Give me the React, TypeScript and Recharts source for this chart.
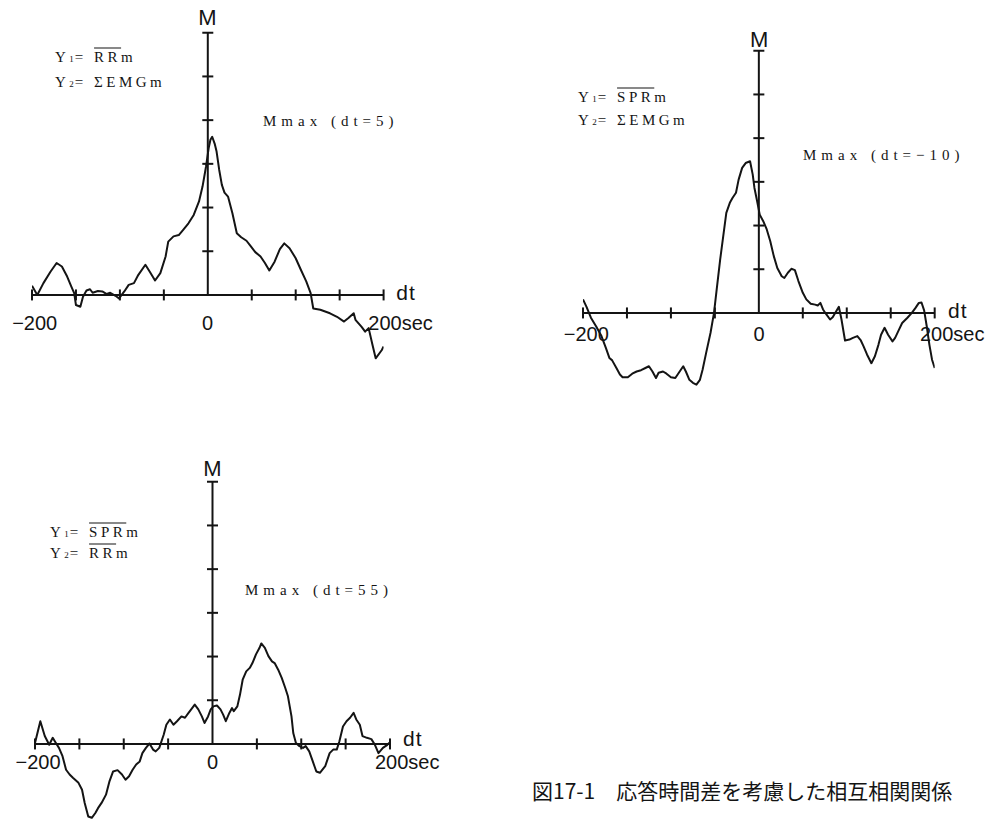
import { LineChart, Line, XAxis, YAxis, ReferenceLine } from 'recharts';
import type { CSSProperties, ReactNode } from 'react';

// lag axis ticks (sec) and correlation ticks (M)
const DT_TICKS = [-200, -150, -100, -50, 0, 50, 100, 150, 200];
const M_TICKS = [0.1, 0.2, 0.3, 0.4, 0.5, 0.6];
const DT_LABELS = ['−200', '0', '200sec'];

// Y1 = RRm, Y2 = ΣEMGm
const rrEmgDt = [
	-200, -194, -187, -179, -172, -166, -160, -155, -152, -150, -145, -142, -138, -134, -131, -125,
	-120, -115, -111, -105, -101, -95, -90, -84, -79, -71, -66, -60, -54, -48, -45, -39, -33, -28,
	-22, -16, -10, -6, -2, 1, 3, 5, 8, 10, 13, 16, 19, 23, 28, 33, 38, 44, 49, 54, 60, 65, 70, 76,
	82, 87, 93, 100, 106, 112, 117, 120, 128, 139, 147, 155, 160, 166, 168, 175, 179, 183, 187,
	191, 198, 200,
];
const rrEmgM = [
	0.021, 0, 0.027, 0.053, 0.073, 0.065, 0.042, 0.018, 0.004, -0.023, -0.027, -0.004, 0.01, 0.013,
	0.005, 0.009, 0.008, 0.002, 0.005, -0.002, -0.008, 0.008, 0.023, 0.027, 0.046, 0.069, 0.053,
	0.033, 0.05, 0.088, 0.122, 0.134, 0.137, 0.149, 0.164, 0.183, 0.214, 0.248, 0.294, 0.336, 0.355,
	0.362, 0.345, 0.328, 0.286, 0.252, 0.234, 0.225, 0.187, 0.141, 0.132, 0.124, 0.111, 0.098,
	0.088, 0.073, 0.056, 0.076, 0.105, 0.118, 0.107, 0.084, 0.057, 0.031, 0.004, -0.031, -0.034,
	-0.042, -0.05, -0.061, -0.053, -0.042, -0.057, -0.073, -0.084, -0.076, -0.111, -0.145, -0.126,
	-0.118,
];

// Y1 = SPRm, Y2 = ΣEMGm
const sprEmgDt = [
	-200, -196, -191, -185, -179, -174, -170, -167, -162, -158, -155, -149, -144, -139, -134, -129,
	-125, -121, -117, -114, -109, -105, -100, -95, -91, -86, -83, -79, -75, -71, -67, -64, -60, -55,
	-51, -48, -44, -40, -37, -33, -30, -26, -23, -19, -15, -10, -7, -5, -2, 1, 5, 9, 13, 17, 21, 26,
	29, 33, 37, 41, 45, 50, 54, 59, 64, 67, 70, 73, 77, 81, 84, 88, 91, 94, 98, 103, 107, 112, 116,
	119, 123, 128, 132, 136, 139, 143, 147, 152, 155, 159, 163, 169, 174, 178, 182, 185, 188, 191,
	194, 197, 200,
];
const sprEmgM = [
	0.031, 0.014, -0.011, -0.031, -0.053, -0.08, -0.103, -0.108, -0.126, -0.141, -0.147, -0.147,
	-0.139, -0.134, -0.131, -0.126, -0.122, -0.134, -0.149, -0.137, -0.134, -0.139, -0.147, -0.149,
	-0.137, -0.122, -0.134, -0.153, -0.16, -0.164, -0.153, -0.13, -0.092, -0.046, 0, 0.053, 0.122,
	0.183, 0.229, 0.252, 0.263, 0.275, 0.305, 0.332, 0.343, 0.347, 0.317, 0.286, 0.256, 0.225, 0.21,
	0.191, 0.164, 0.13, 0.103, 0.084, 0.08, 0.092, 0.101, 0.098, 0.073, 0.046, 0.031, 0.021, 0.019,
	0.017, 0.023, 0.008, -0.004, -0.015, -0.01, 0.004, 0.014, -0.015, -0.063, -0.061, -0.057, -0.053,
	-0.063, -0.076, -0.095, -0.115, -0.099, -0.073, -0.05, -0.034, -0.05, -0.065, -0.057, -0.04,
	-0.023, -0.011, 0, 0.011, 0.023, 0.024, 0.006, -0.031, -0.073, -0.107, -0.126,
];

// Y1 = SPRm, Y2 = RRm
const sprRrDt = [
	-200, -194, -189, -184, -180, -177, -173, -169, -165, -161, -157, -151, -147, -144, -140, -136,
	-132, -129, -125, -120, -116, -112, -107, -102, -98, -94, -90, -86, -82, -79, -75, -71, -67, -64,
	-60, -55, -52, -48, -44, -40, -35, -31, -27, -24, -20, -16, -12, -9, -5, -2, 1, 5, 9, 12, 15, 19,
	22, 24, 28, 31, 34, 38, 42, 45, 49, 53, 55, 59, 63, 67, 70, 74, 78, 82, 85, 89, 91, 94, 98, 102,
	105, 109, 113, 117, 121, 127, 132, 136, 140, 143, 147, 151, 155, 159, 162, 166, 169, 174, 179,
	183, 187, 192, 197, 200,
];
const sprRrM = [
	0.002, 0.052, 0.018, -0.002, 0.014, 0.004, -0.009, -0.028, -0.059, -0.07, -0.078, -0.089, -0.105,
	-0.135, -0.166, -0.169, -0.158, -0.147, -0.135, -0.116, -0.085, -0.063, -0.06, -0.07, -0.082,
	-0.074, -0.059, -0.047, -0.04, -0.021, -0.009, 0.001, -0.013, -0.017, -0.009, 0.021, 0.044,
	0.056, 0.044, 0.052, 0.063, 0.06, 0.071, 0.079, 0.09, 0.079, 0.063, 0.048, 0.063, 0.079, 0.086,
	0.088, 0.079, 0.067, 0.052, 0.071, 0.082, 0.075, 0.086, 0.113, 0.147, 0.166, 0.174, 0.185, 0.205,
	0.22, 0.23, 0.22, 0.201, 0.189, 0.185, 0.17, 0.151, 0.128, 0.109, 0.063, 0.025, 0.002, -0.005,
	-0.009, -0.005, -0.017, -0.04, -0.063, -0.066, -0.051, -0.021, -0.013, -0.013, 0.006, 0.04, 0.052,
	0.06, 0.071, 0.056, 0.044, 0.018, 0.014, 0.011, -0.002, -0.021, -0.009, -0.002, 0.004,
];

const INK = '#141414';
const PX_PER_M = 437; // one M tick (0.1) is 43.7px
const M_TOP = 0.62;
const PAD = 8;

type PlotProps = {
	dt: number[];
	m: number[];
	left: number; // page x of dt = -200
	right: number; // page x of dt = 200
	axisY: number; // page y of M = 0
	mMin: number;
};

const CorrPlot = ({ dt, m, left, right, axisY, mMin }: PlotProps) => {
	const data = dt.map((d, i) => ({ dt: d, m: m[i] }));
	const plotW = right - left;
	const plotH = (M_TOP - mMin) * PX_PER_M;
	const halfTickM = 5.5 / PX_PER_M; // x ticks, in M units
	const halfTickDt = (5.5 * 400) / plotW; // y ticks, in dt units
	const axis = { stroke: INK, strokeWidth: 2 };

	return (
		<div
			style={{
				position: 'absolute',
				left: left - PAD,
				top: axisY - M_TOP * PX_PER_M - PAD,
			}}>
			<LineChart
				width={plotW + 2 * PAD}
				height={plotH + 2 * PAD}
				data={data}
				margin={{ top: PAD, right: PAD, bottom: PAD, left: PAD }}>
				<XAxis dataKey="dt" type="number" domain={[-200, 200]} allowDataOverflow hide />
				<YAxis type="number" domain={[mMin, M_TOP]} allowDataOverflow hide />
				<ReferenceLine segment={[{ x: -200, y: 0 }, { x: 200, y: 0 }]} {...axis} />
				<ReferenceLine segment={[{ x: 0, y: 0 }, { x: 0, y: 0.6 }]} {...axis} />
				{DT_TICKS.filter((t) => t !== 0).map((t) => (
					<ReferenceLine
						key={`xt${t}`}
						segment={[{ x: t, y: -halfTickM }, { x: t, y: halfTickM }]}
						{...axis}
					/>
				))}
				{M_TICKS.map((t) => (
					<ReferenceLine
						key={`yt${t}`}
						segment={[{ x: -halfTickDt, y: t }, { x: halfTickDt, y: t }]}
						{...axis}
					/>
				))}
				<Line
					dataKey="m"
					type="linear"
					dot={false}
					stroke={INK}
					strokeWidth={2}
					strokeLinejoin="round"
					isAnimationActive={false}
				/>
			</LineChart>
		</div>
	);
};

const SANS = '"Liberation Sans", Arial, sans-serif';
const SERIF = '"Liberation Serif", "DejaVu Serif", serif';

const Txt = ({
	x,
	y,
	center,
	style,
	children,
}: {
	x: number;
	y: number;
	center?: boolean;
	style?: CSSProperties;
	children: ReactNode;
}) => (
	<div
		style={{
			position: 'absolute',
			left: x,
			top: y,
			transform: center ? 'translate(-50%, -50%)' : 'translateY(-50%)',
			whiteSpace: 'nowrap',
			lineHeight: 1,
			color: INK,
			...style,
		}}>
		{children}
	</div>
);

const axisText: CSSProperties = { fontFamily: SANS, fontSize: 20 };
const formulaText: CSSProperties = { fontFamily: SERIF, fontSize: 15, letterSpacing: 3.5 };
const peakText: CSSProperties = { fontFamily: SERIF, fontSize: 15, letterSpacing: 5 };
const bar: CSSProperties = { textDecoration: 'overline' };
const Sub = ({ n }: { n: string }) => <span style={{ fontSize: 9, letterSpacing: 1 }}>{n}</span>;

// axis titles and -200 / 0 / 200sec under one plot
const AxisLabels = ({
	left,
	right,
	axisY,
	labelY,
	mY,
}: {
	left: number;
	right: number;
	axisY: number;
	labelY: number;
	mY: number;
}) => {
	const zero = (left + right) / 2;
	return (
		<>
			<Txt x={zero} y={mY} center style={{ ...axisText, fontSize: 22 }}>
				M
			</Txt>
			<Txt x={right + 13} y={axisY - 3} style={{ ...axisText, fontSize: 21, letterSpacing: 1 }}>
				dt
			</Txt>
			<Txt x={left + 3} y={labelY} center style={axisText}>
				{DT_LABELS[0]}
			</Txt>
			<Txt x={zero} y={labelY} center style={axisText}>
				{DT_LABELS[1]}
			</Txt>
			<Txt x={right - 15} y={labelY} style={axisText}>
				{DT_LABELS[2]}
			</Txt>
		</>
	);
};

const App = () => (
	<div
		style={{
			position: 'absolute',
			left: 0,
			top: 0,
			width: 1001,
			height: 820,
			background: '#fff',
			overflow: 'hidden',
		}}>
		<CorrPlot dt={rrEmgDt} m={rrEmgM} left={31.7} right={383.3} axisY={295} mMin={-0.17} />
		<AxisLabels left={31.7} right={383.3} axisY={295} labelY={323} mY={18} />
		<Txt x={55} y={57} style={formulaText}>
			Y<Sub n="1" />= <span style={bar}>RR</span>m
		</Txt>
		<Txt x={55} y={82} style={formulaText}>
			Y<Sub n="2" />= ΣEMGm
		</Txt>
		<Txt x={263} y={121} style={peakText}>
			Mmax (dt=5)
		</Txt>

		<CorrPlot dt={sprEmgDt} m={sprEmgM} left={583.3} right={935} axisY={313.3} mMin={-0.19} />
		<AxisLabels left={583.3} right={935} axisY={313.3} labelY={334} mY={39.5} />
		<Txt x={578} y={97} style={formulaText}>
			Y<Sub n="1" />= <span style={bar}>SPR</span>m
		</Txt>
		<Txt x={578} y={120} style={formulaText}>
			Y<Sub n="2" />= ΣEMGm
		</Txt>
		<Txt x={803} y={155} style={peakText}>
			Mmax (dt=−10)
		</Txt>

		<CorrPlot dt={sprRrDt} m={sprRrM} left={35} right={390} axisY={744.3} mMin={-0.19} />
		<AxisLabels left={35} right={390} axisY={741} labelY={762} mY={469} />
		<Txt x={50} y={532} style={formulaText}>
			Y<Sub n="1" />= <span style={bar}>SPR</span>m
		</Txt>
		<Txt x={50} y={553} style={formulaText}>
			Y<Sub n="2" />= <span style={bar}>RR</span>m
		</Txt>
		<Txt x={245} y={590} style={peakText}>
			Mmax (dt=55)
		</Txt>

		<Txt x={532} y={790} style={{ fontFamily: '"Noto Sans CJK JP", sans-serif', fontSize: 21 }}>
			図17-1　応答時間差を考慮した相互相関関係
		</Txt>
	</div>
);

export default App;
